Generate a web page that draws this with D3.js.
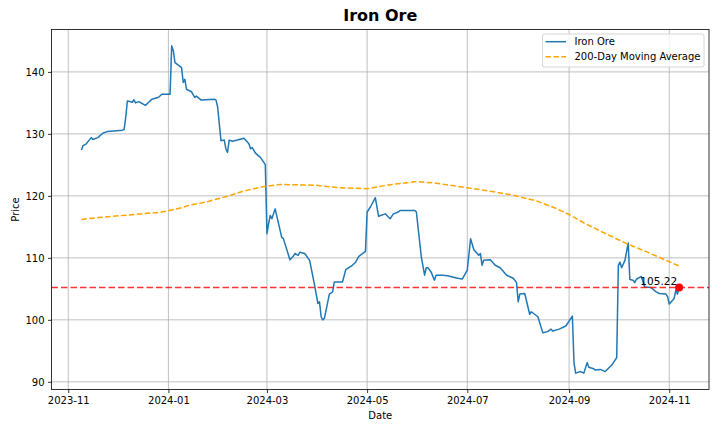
<!DOCTYPE html>
<html><head><meta charset="utf-8">
<script src="https://cdn.jsdelivr.net/npm/d3@7"></script>
<style>body{margin:0;background:#fff}svg{display:block;font-family:"DejaVu Sans",sans-serif}</style>
</head><body><svg id="c" width="720" height="432"></svg>
<script>
const priceDates = ["2023-11-09","2023-11-10","2023-11-12","2023-11-13","2023-11-15","2023-11-16","2023-11-19","2023-11-22","2023-11-25","2023-12-04","2023-12-05","2023-12-06","2023-12-07","2023-12-09","2023-12-10","2023-12-11","2023-12-12","2023-12-14","2023-12-18","2023-12-20","2023-12-22","2023-12-26","2023-12-28","2024-01-02","2024-01-03","2024-01-04","2024-01-05","2024-01-09","2024-01-10","2024-01-11","2024-01-12","2024-01-15","2024-01-17","2024-01-18","2024-01-21","2024-01-29","2024-01-30","2024-01-31","2024-02-02","2024-02-04","2024-02-05","2024-02-06","2024-02-07","2024-02-09","2024-02-12","2024-02-16","2024-02-19","2024-02-20","2024-02-21","2024-02-23","2024-02-26","2024-02-29","2024-03-01","2024-03-02","2024-03-03","2024-03-04","2024-03-06","2024-03-10","2024-03-11","2024-03-15","2024-03-17","2024-03-18","2024-03-20","2024-03-21","2024-03-24","2024-03-27","2024-03-30","2024-04-01","2024-04-02","2024-04-03","2024-04-04","2024-04-05","2024-04-08","2024-04-10","2024-04-11","2024-04-16","2024-04-18","2024-04-22","2024-04-24","2024-04-26","2024-04-30","2024-05-01","2024-05-03","2024-05-06","2024-05-08","2024-05-12","2024-05-15","2024-05-17","2024-05-20","2024-05-21","2024-05-30","2024-05-31","2024-06-03","2024-06-05","2024-06-06","2024-06-07","2024-06-09","2024-06-11","2024-06-12","2024-06-16","2024-06-19","2024-06-25","2024-06-28","2024-07-01","2024-07-03","2024-07-05","2024-07-08","2024-07-09","2024-07-10","2024-07-11","2024-07-15","2024-07-18","2024-07-21","2024-07-25","2024-07-29","2024-07-31","2024-08-01","2024-08-02","2024-08-05","2024-08-08","2024-08-09","2024-08-13","2024-08-16","2024-08-19","2024-08-21","2024-08-22","2024-08-26","2024-08-30","2024-09-03","2024-09-04","2024-09-05","2024-09-08","2024-09-10","2024-09-12","2024-09-13","2024-09-16","2024-09-17","2024-09-20","2024-09-23","2024-09-27","2024-09-30","2024-10-01","2024-10-02","2024-10-03","2024-10-05","2024-10-07","2024-10-08","2024-10-10","2024-10-11","2024-10-12","2024-10-15","2024-10-17","2024-10-21","2024-10-24","2024-10-26","2024-10-30","2024-10-31","2024-11-01","2024-11-04","2024-11-05","2024-11-06","2024-11-07"];
const priceValues = [127.4,128.1,128.4,128.75,129.4,129.1,129.4,130.1,130.4,130.6,130.7,132.65,135.3,135.2,135.1,135.5,135.0,135.2,134.6,135.1,135.6,135.9,136.4,136.4,144.2,143.4,141.5,140.7,138.3,138.8,137.2,136.8,135.9,136.1,135.45,135.6,135.45,134.3,128.9,129.0,127.6,127.0,129.0,128.8,129.0,129.3,128.4,127.6,127.8,126.9,126.2,125.05,113.9,115.5,116.85,116.3,117.9,113.3,113.1,109.7,110.25,110.7,110.4,110.9,110.7,109.6,105.6,102.65,102.9,100.5,100.0,100.25,104.15,104.5,106.1,106.1,108.1,108.8,109.3,110.25,111.05,117.4,118.2,119.7,116.7,117.1,116.3,117.1,117.4,117.65,117.65,117.4,110.15,107.2,108.4,108.4,107.7,106.4,107.2,107.2,107.1,106.7,106.6,108.0,113.1,111.3,110.4,110.7,108.8,109.6,109.7,108.8,108.4,107.2,106.7,106.0,102.9,104.15,104.25,100.9,101.3,100.5,97.9,98.1,98.5,98.2,98.5,99.0,100.6,93.0,91.4,91.65,91.4,93.1,92.35,92.1,91.9,92.0,91.65,92.7,93.9,108.8,109.3,108.4,109.6,112.4,106.5,106.4,106.0,106.55,107.0,105.3,105.2,104.5,104.25,104.15,103.7,102.55,103.45,104.8,104.15,105.22];
const maDates = ["2023-11-09","2023-11-20","2023-12-11","2023-12-27","2024-01-01","2024-01-09","2024-01-14","2024-01-24","2024-01-30","2024-02-07","2024-02-16","2024-02-28","2024-03-09","2024-03-31","2024-04-14","2024-05-01","2024-05-15","2024-05-31","2024-06-12","2024-07-01","2024-07-15","2024-07-29","2024-08-12","2024-08-22","2024-09-01","2024-09-11","2024-09-21","2024-10-06","2024-10-18","2024-10-30","2024-11-07"];
const maValues = [116.2,116.5,117.0,117.35,117.6,118.1,118.5,119.0,119.45,120.0,120.8,121.5,121.85,121.7,121.3,121.15,121.8,122.3,122.05,121.3,120.75,120.1,119.2,118.2,117.0,115.5,114.2,112.3,111.0,109.6,108.7];
const latestValue = 105.22;
const yTicks = [90,100,110,120,130,140];
const xTickLabels = ["2023-11","2024-01","2024-03","2024-05","2024-07","2024-09","2024-11"];
const seriesNames = ["Iron Ore","200-Day Moving Average"];

const parse = d3.timeParse("%Y-%m-%d");
const price = priceDates.map((d,i)=>({date:parse(d),value:priceValues[i]}));
const ma = maDates.map((d,i)=>({date:parse(d),value:maValues[i]}));

const svg = d3.select("#c");
const L=51.5, R=709, T=29.5, B=389.5;
const ext = d3.extent(price, d=>d.date);
const span = ext[1]-ext[0];
const x = d3.scaleTime().domain([new Date(+ext[0]-0.05*span), new Date(+ext[1]+0.05*span)]).range([L,R]);
const yExt = d3.extent(price, d=>d.value);
const ys = yExt[1]-yExt[0];
const y = d3.scaleLinear().domain([yExt[0]-0.05*ys, yExt[1]+0.05*ys]).range([B,T]);

const xTickDates = xTickLabels.map(s=>d3.timeParse("%Y-%m")(s));

// grid
const g = svg.append("g");
g.selectAll(".vg").data(xTickDates).join("line")
  .attr("x1",d=>x(d)).attr("x2",d=>x(d)).attr("y1",T).attr("y2",B)
  .attr("stroke","#b0b0b0").attr("stroke-width",0.8);
g.selectAll(".hg").data(yTicks).join("line")
  .attr("x1",L).attr("x2",R).attr("y1",d=>y(d)).attr("y2",d=>y(d))
  .attr("stroke","#b0b0b0").attr("stroke-width",0.8);

// lines
const line = d3.line().x(d=>x(d.date)).y(d=>y(d.value));
svg.append("path").datum(price).attr("d",line).attr("fill","none")
  .attr("stroke","#1f77b4").attr("stroke-width",1.5).attr("stroke-linejoin","round");
svg.append("path").datum(ma).attr("d",line).attr("fill","none")
  .attr("stroke","orange").attr("stroke-width",1.5).attr("stroke-dasharray","5.55,2.4");

// latest line
svg.append("line").attr("x1",L).attr("x2",R).attr("y1",y(latestValue)).attr("y2",y(latestValue))
  .attr("stroke","red").attr("stroke-opacity",0.8).attr("stroke-width",1.7).attr("stroke-dasharray","6.5,3");
const last = price[price.length-1];
svg.append("circle").attr("cx",x(last.date)).attr("cy",y(last.value)).attr("r",4).attr("fill","red");
svg.append("text").attr("x",x(last.date)-2).attr("y",y(last.value)-2).attr("text-anchor","end")
  .attr("font-size",10.5).attr("fill","#000").text(latestValue.toFixed(2));

// spines
svg.append("rect").attr("x",L).attr("y",T).attr("width",R-L).attr("height",B-T)
  .attr("fill","none").attr("stroke","#000").attr("stroke-width",0.8);

// axes
const xAxis = d3.axisBottom(x).tickValues(xTickDates).tickFormat(d3.timeFormat("%Y-%m")).tickSize(3.5).tickPadding(3.5);
const ax = svg.append("g").attr("transform",`translate(0,${B})`).call(xAxis);
const yAxis = d3.axisLeft(y).tickValues(yTicks).tickSize(3.5).tickPadding(3.5);
const ay = svg.append("g").attr("transform",`translate(${L},0)`).call(yAxis);
[ax,ay].forEach(a=>{
  a.select(".domain").remove();
  a.selectAll(".tick line").attr("stroke","#000").attr("stroke-width",0.8);
  a.selectAll(".tick text").attr("font-size",10).attr("fill","#000").attr("font-family","DejaVu Sans");
});

// labels
svg.append("text").attr("x",(L+R)/2).attr("y",21).attr("text-anchor","middle")
  .attr("font-size",16).attr("font-weight","bold").text("Iron Ore");
svg.append("text").attr("x",(L+R)/2).attr("y",419).attr("text-anchor","middle")
  .attr("font-size",10).text("Date");
svg.append("text").attr("transform",`translate(19,${(T+B)/2}) rotate(-90)`).attr("text-anchor","middle")
  .attr("font-size",10).text("Price");

// legend
const lg = svg.append("g");
lg.append("rect").attr("x",542.5).attr("y",34).attr("width",161.5).attr("height",33).attr("rx",2)
  .attr("fill","#fff").attr("fill-opacity",0.8).attr("stroke","#cccccc").attr("stroke-width",0.8);
const styles = [{c:"#1f77b4",d:null},{c:"orange",d:"5.55,2.4"}];
seriesNames.forEach((n,i)=>{
  const yy = 41.7 + i*15;
  lg.append("line").attr("x1",545.5).attr("x2",566).attr("y1",yy).attr("y2",yy)
    .attr("stroke",styles[i].c).attr("stroke-width",1.5).attr("stroke-dasharray",styles[i].d);
  lg.append("text").attr("x",574.5).attr("y",yy+3.6).attr("font-size",10).text(n);
});
</script></body></html>
